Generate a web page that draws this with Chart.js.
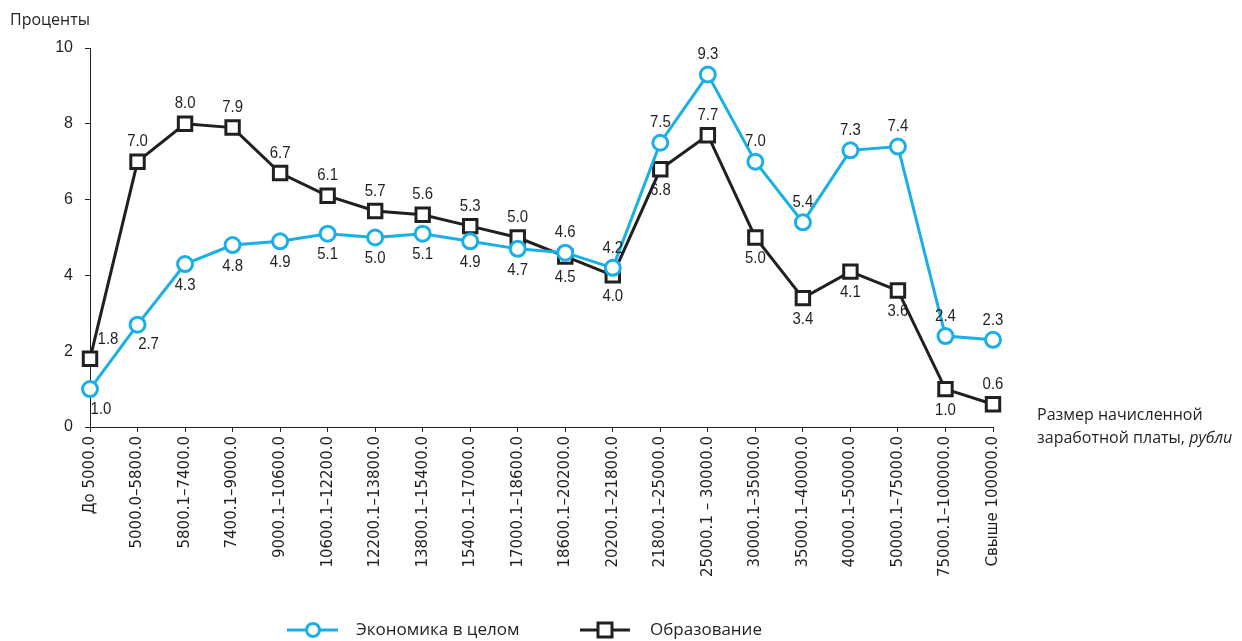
<!DOCTYPE html>
<html><head><meta charset="utf-8">
<script src="https://cdn.jsdelivr.net/npm/chart.js@4"></script>
<style>html,body{margin:0;padding:0;background:#fff}#wrap{width:1242px;height:641px;position:relative}</style>
</head><body><div id="wrap"><canvas id="c" width="1242" height="641"></canvas></div>
<script>
const categories = ["До 5000.0","5000.0–5800.0","5800.1–7400.0","7400.1–9000.0","9000.1–10600.0","10600.1–12200.0","12200.1–13800.0","13800.1–15400.0","15400.1–17000.0","17000.1–18600.0","18600.1–20200.0","20200.1–21800.0","21800.1–25000.0","25000.1 – 30000.0","30000.1–35000.0","35000.1–40000.0","40000.1–50000.0","50000.1–75000.0","75000.1–100000.0","Свыше 100000.0"];
const economy = [1.0,2.7,4.3,4.8,4.9,5.1,5.0,5.1,4.9,4.7,4.6,4.2,7.5,9.3,7.0,5.4,7.3,7.4,2.4,2.3];
const education = [1.8,7.0,8.0,7.9,6.7,6.1,5.7,5.6,5.3,5.0,4.5,4.0,6.8,7.7,5.0,3.4,4.1,3.6,1.0,0.6];
const yTicks = [0,2,4,6,8,10];
const seriesNames = ["Экономика в целом","Образование"];

const BLUE = '#1aafe6';
const INK = '#231f20';
const labelPos = {
  0: ['br','br','b','b','b','b','b','b','b','b','a','a','a','a','a','a','a','a','a','a'],
  1: ['ar','a','a','a','a','a','a','a','a','a','b','b','b','a','b','b','b','b','b','a']
};
const numFont = '17px "Liberation Sans", Arial, sans-serif';

const labelsPlugin = {
  id: 'pointLabels',
  afterDatasetsDraw(chart) {
    const ctx = chart.ctx;
    chart.data.datasets.forEach((ds, di) => {
      const meta = chart.getDatasetMeta(di);
      meta.data.forEach((pt, i) => {
        const p = labelPos[di][i];
        let dx = 0, dy = 0;
        if (p === 'a') dy = -20;
        else if (p === 'b') dy = 21;
        else if (p === 'ar') { dx = 18; dy = -19; }
        else if (p === 'br') { dx = 11; dy = 20; }
        ctx.save();
        ctx.font = numFont;
        ctx.fillStyle = INK;
        ctx.textAlign = 'center';
        ctx.textBaseline = 'middle';
        ctx.translate(pt.x + dx, pt.y + dy);
        ctx.scale(0.88, 1);
        ctx.fillText(ds.data[i].toFixed(1), 0, 0);
        ctx.restore();
      });
    });
  },
  afterDraw(chart) {
    const ctx = chart.ctx;
    ctx.save();
    ctx.fillStyle = INK;
    ctx.textBaseline = 'middle';
    ctx.textAlign = 'left';
    ctx.font = '16px "Open Sans", "Noto Sans", sans-serif';
    ctx.fillText('Проценты', 10, 20);
    ctx.fillText('Размер начисленной', 1037, 415);
    const t1 = 'заработной платы, ';
    ctx.fillText(t1, 1037, 438);
    const w = ctx.measureText(t1).width;
    ctx.font = 'italic 16px "Open Sans", "Noto Sans", sans-serif';
    ctx.fillText('рубли', 1037 + w, 438);
    // legend
    const ly = 630;
    ctx.font = '17px "Open Sans", "Noto Sans", sans-serif';
    ctx.strokeStyle = BLUE; ctx.lineWidth = 3;
    ctx.beginPath(); ctx.moveTo(287, ly); ctx.lineTo(338, ly); ctx.stroke();
    ctx.fillStyle = '#fff';
    ctx.beginPath(); ctx.arc(313, ly, 6.5, 0, Math.PI * 2); ctx.fill(); ctx.stroke();
    ctx.fillStyle = INK;
    ctx.fillText(seriesNames[0], 356, ly);
    ctx.strokeStyle = INK;
    ctx.beginPath(); ctx.moveTo(580, ly); ctx.lineTo(630, ly); ctx.stroke();
    ctx.fillStyle = '#fff';
    ctx.fillRect(598, ly - 7, 14, 14); ctx.strokeRect(598, ly - 7, 14, 14);
    ctx.fillStyle = INK;
    ctx.fillText(seriesNames[1], 650, ly);
    ctx.restore();
  }
};

new Chart(document.getElementById('c'), {
  type: 'line',
  data: {
    labels: categories,
    datasets: [
      { label: seriesNames[0], data: economy, borderColor: BLUE, borderWidth: 3,
        pointStyle: 'circle', pointRadius: 7.5, pointBorderWidth: 3, pointBackgroundColor: '#fff',
        pointBorderColor: BLUE, tension: 0, order: 1 },
      { label: seriesNames[1], data: education, borderColor: INK, borderWidth: 3,
        pointStyle: 'rect', pointRadius: 9.5, pointBorderWidth: 3, pointBackgroundColor: '#fff',
        pointBorderColor: INK, tension: 0, order: 2 }
    ]
  },
  options: {
    responsive: false,
    animation: false,
    layout: { padding: { top: 48, right: 249, left: 0, bottom: 0 } },
    plugins: { legend: { display: false }, tooltip: { enabled: false } },
    scales: {
      x: {
        offset: false,
        grid: { display: true, drawOnChartArea: false, drawTicks: true, tickLength: 5, color: INK },
        border: { display: true, color: INK, width: 1 },
        ticks: { autoSkip: false, maxRotation: 90, minRotation: 90, color: INK, padding: 4,
          font: { family: '"DejaVu Sans", sans-serif', size: 15 } },
        afterFit(s) { s.height = 214; }
      },
      y: {
        min: 0, max: 10,
        afterBuildTicks(s) { s.ticks = yTicks.map(v => ({ value: v })); },
        grid: { display: true, drawOnChartArea: false, drawTicks: true, tickLength: 5, color: INK },
        border: { display: true, color: INK, width: 1 },
        ticks: { color: INK, padding: 12, font: { family: '"Liberation Sans", Arial, sans-serif', size: 16 } },
        afterFit(s) { s.width = 90; }
      }
    }
  },
  plugins: [labelsPlugin]
});
</script></body></html>
